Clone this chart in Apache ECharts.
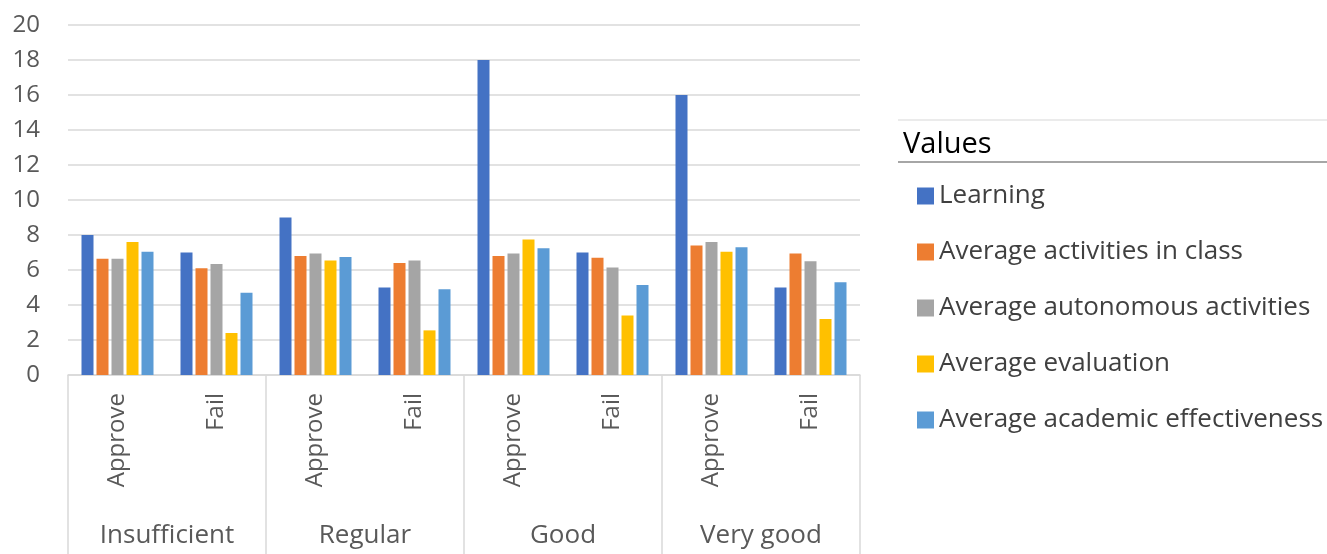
<!DOCTYPE html>
<html>
<head>
<meta charset="utf-8">
<script src="https://cdn.jsdelivr.net/npm/echarts@6/dist/echarts.min.js"></script>
<style>
  html, body { margin: 0; padding: 0; background: #fff; }
  #chart { width: 1327px; height: 554px; }
</style>
</head>
<body>
<div id="chart"></div>
<script>
// categories
var groups = ['Insufficient', 'Regular', 'Good', 'Very good'];
var subCats = ['Approve', 'Fail', 'Approve', 'Fail', 'Approve', 'Fail', 'Approve', 'Fail'];
var yTicks = [0, 20, 2];

// series values
var learning      = [8, 7, 9, 5, 18, 7, 16, 5];
var actClass      = [6.65, 6.1, 6.8, 6.4, 6.8, 6.7, 7.4, 6.95];
var actAuto       = [6.65, 6.35, 6.95, 6.55, 6.95, 6.15, 7.6, 6.5];
var evaluation    = [7.6, 2.4, 6.55, 2.55, 7.75, 3.4, 7.05, 3.2];
var effectiveness = [7.05, 4.7, 6.75, 4.9, 7.25, 5.15, 7.3, 5.3];

var seriesNames = ['Learning', 'Average activities in class', 'Average autonomous activities', 'Average evaluation', 'Average academic effectiveness'];
var seriesData = [learning, actClass, actAuto, evaluation, effectiveness];
var colors = ['#4472C4', '#ED7D31', '#A5A5A5', '#FFC000', '#5B9BD5'];

var chart = echarts.init(document.getElementById('chart'));
var font = '"Open Sans", "Noto Sans", sans-serif';

var option = {
    animation: false,
    textStyle: { fontFamily: font },
    grid: { left: 68, right: 467, top: 25, bottom: 179 },
    title: {
        text: 'Values',
        left: 898,
        top: 125,
        textStyle: { fontFamily: font, fontSize: 29, fontWeight: 'normal', color: '#000' }
    },
    legend: {
        orient: 'vertical',
        left: 912,
        top: 178,
        icon: 'rect',
        itemWidth: 17,
        itemHeight: 17,
        itemGap: 30,
        data: seriesNames,
        textStyle: { fontFamily: font, fontSize: 26, color: '#404040' }
    },
    graphic: [
        { type: 'line', shape: { x1: 898, y1: 120, x2: 1327, y2: 120 }, style: { stroke: '#E4E4E4', lineWidth: 1.5 } },
        { type: 'line', shape: { x1: 898, y1: 162, x2: 1327, y2: 162 }, style: { stroke: '#A6A6A6', lineWidth: 2 } }
    ],
    xAxis: [
        {
            type: 'category',
            data: subCats,
            position: 'bottom',
            axisLine: { lineStyle: { color: '#D9D9D9', width: 1.5 } },
            axisTick: { show: false },
            axisLabel: { rotate: 90, margin: 18, fontSize: 24, color: '#595959', fontFamily: font }
        },
        {
            type: 'category',
            data: groups,
            position: 'bottom',
            axisLine: { show: false },
            axisTick: { show: true, length: 179, lineStyle: { color: '#D9D9D9', width: 1.5 } },
            axisLabel: { margin: 148, fontSize: 26, color: '#595959', fontFamily: font }
        }
    ],
    yAxis: {
        type: 'value',
        min: yTicks[0],
        max: yTicks[1],
        interval: yTicks[2],
        axisLine: { show: false },
        axisTick: { show: false },
        splitLine: { lineStyle: { color: '#D9D9D9', width: 1.5 } },
        axisLabel: { margin: 28, fontSize: 24, color: '#595959', fontFamily: font }
    },
    series: seriesNames.map(function (name, i) {
        return {
            name: name,
            type: 'bar',
            xAxisIndex: 0,
            data: seriesData[i],
            barWidth: 12,
            barGap: '25%',
            itemStyle: { color: colors[i] }
        };
    })
};

chart.setOption(option);
</script>
</body>
</html>
